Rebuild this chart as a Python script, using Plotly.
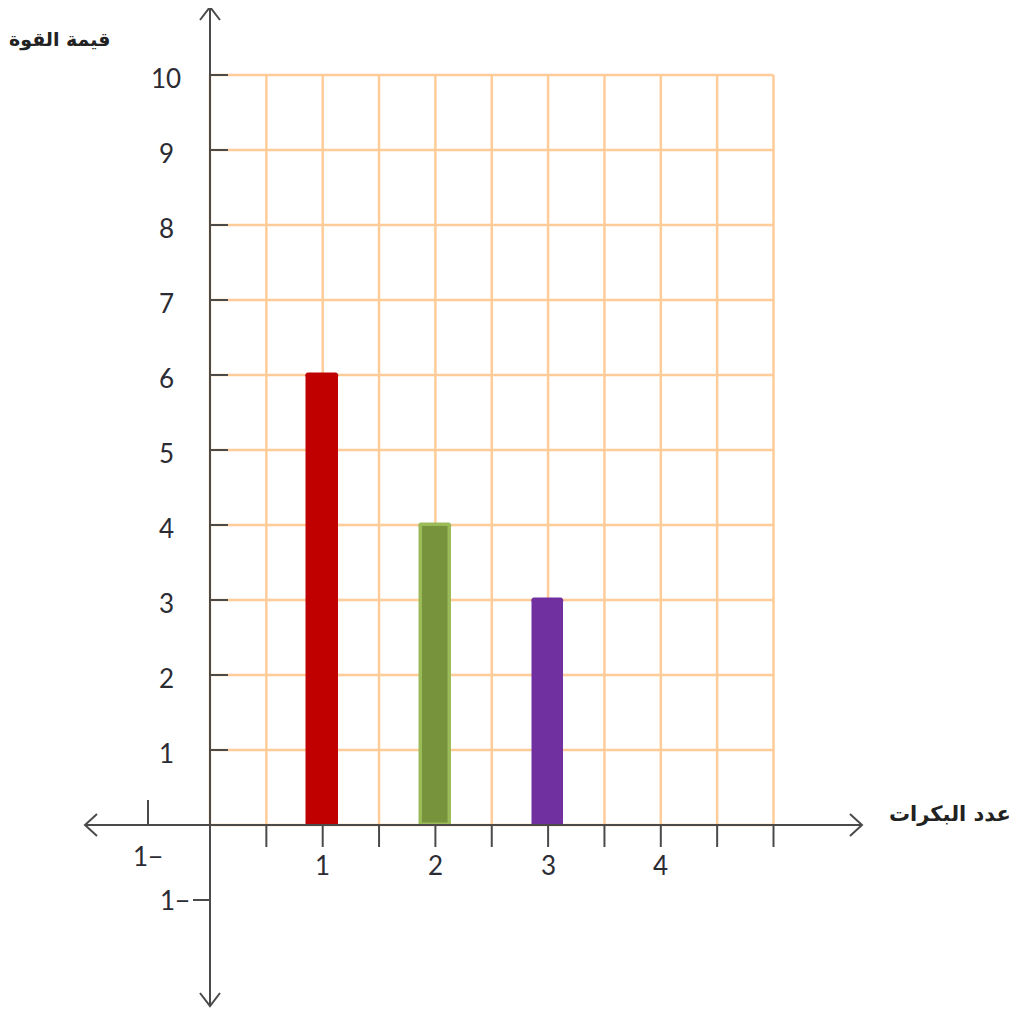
import plotly.graph_objects as go

# ---- data ----
categories = [1, 2, 3]
force_values = [6, 4, 3]
bar_colors = ["#C00000", "#77933C", "#7030A0"]
bar_line_colors = ["#C00000", "#9BBB59", "#7030A0"]
x_tick_vals = [1, 2, 3, 4]
x_tick_text = ["1", "2", "3", "4"]
y_tick_vals = [1, 2, 3, 4, 5, 6, 7, 8, 9, 10]
y_tick_text = ["1", "2", "3", "4", "5", "6", "7", "8", "9", "10"]
neg_label = "1−"
x_title = "عدد البكرات"
y_title = "قيمة القوة"

# page has an 8px body margin; figure sized to fit inside the viewport
OFF = 8
W, H = 1009, 1004
UX, UY = 112.7, 75.0          # pixels per data unit
X0_PAGE, Y0_PAGE = 210, 825   # page pixel of data origin
x0f, y0f = X0_PAGE - OFF, Y0_PAGE - OFF
XR = [-x0f / UX, (W - x0f) / UX]
YR = [-(H - y0f) / UY, y0f / UY]
px_x = 1 / UX
px_y = 1 / UY


def paper_x(page_px):
    return (page_px - OFF) / W


def paper_y(page_py):
    return 1 - (page_py - OFF) / H


fig = go.Figure()

shapes = []
grid_col = "#FFCC99"
axis_col = "#4A4A4A"
# grid
for i in range(0, 11):
    xv = i * 0.5
    shapes.append(dict(type="line", xref="x", yref="y", x0=xv, x1=xv, y0=0, y1=10,
                       line=dict(color=grid_col, width=2.5), layer="below"))
for j in range(0, 11):
    shapes.append(dict(type="line", xref="x", yref="y", x0=0, x1=5, y0=j, y1=j,
                       line=dict(color=grid_col, width=2.5), layer="below"))

# axes
x_left, x_right = (85 - X0_PAGE) * px_x, (862 - X0_PAGE) * px_x
y_top, y_bot = (Y0_PAGE - 7) * px_y, (Y0_PAGE - 1006) * px_y
shapes.append(dict(type="line", xref="x", yref="y", x0=x_left, x1=x_right, y0=0, y1=0,
                   line=dict(color=axis_col, width=2)))
shapes.append(dict(type="line", xref="x", yref="y", x0=0, x1=0, y0=y_bot, y1=y_top,
                   line=dict(color=axis_col, width=2)))

# arrow heads (chevrons)
ax_ = 12 * px_x
ay_ = 11 * px_y
shapes.append(dict(type="path", xref="x", yref="y",
                   path=f"M {x_left+ax_} {ay_} L {x_left} 0 L {x_left+ax_} {-ay_}",
                   line=dict(color=axis_col, width=2)))
shapes.append(dict(type="path", xref="x", yref="y",
                   path=f"M {x_right-ax_} {ay_} L {x_right} 0 L {x_right-ax_} {-ay_}",
                   line=dict(color=axis_col, width=2)))
bx = 10 * px_x
by = 13 * px_y
shapes.append(dict(type="path", xref="x", yref="y",
                   path=f"M {-bx} {y_top-by} L 0 {y_top} L {bx} {y_top-by}",
                   line=dict(color=axis_col, width=2)))
shapes.append(dict(type="path", xref="x", yref="y",
                   path=f"M {-bx} {y_bot+by} L 0 {y_bot} L {bx} {y_bot+by}",
                   line=dict(color=axis_col, width=2)))

# x ticks (below axis, every half unit)
for i in range(1, 11):
    xv = i * 0.5
    shapes.append(dict(type="line", xref="x", yref="y", x0=xv, x1=xv, y0=0, y1=-22 * px_y,
                       line=dict(color=axis_col, width=2)))
# negative x tick (above axis)
neg_x = (148 - X0_PAGE) * px_x
shapes.append(dict(type="line", xref="x", yref="y", x0=neg_x, x1=neg_x, y0=0, y1=25 * px_y,
                   line=dict(color=axis_col, width=2)))
# y ticks (right of axis)
for yv in y_tick_vals:
    shapes.append(dict(type="line", xref="x", yref="y", x0=0, x1=18 * px_x, y0=yv, y1=yv,
                       line=dict(color=axis_col, width=2)))
# negative y tick (left of axis)
shapes.append(dict(type="line", xref="x", yref="y", x0=-17 * px_x, x1=0, y0=-1, y1=-1,
                   line=dict(color=axis_col, width=2)))

# bars
fig.add_trace(go.Bar(
    x=categories, y=force_values, width=0.255,
    marker=dict(color=bar_colors, line=dict(color=bar_line_colors, width=3.5), cornerradius=2),
    hoverinfo="skip", showlegend=False,
))

num_font = dict(family="Lato, Roboto, sans-serif", size=26, color="#2B2B33")
annotations = []
for v, t in zip(x_tick_vals, x_tick_text):
    annotations.append(dict(x=v, y=-40 * px_y, xref="x", yref="y", text=t, showarrow=False,
                            font=num_font, xanchor="center", yanchor="middle"))
for v, t in zip(y_tick_vals, y_tick_text):
    annotations.append(dict(x=(166 - X0_PAGE) * px_x, y=v - 3 * px_y, xref="x", yref="y", text=t,
                            showarrow=False, font=num_font, xanchor="center", yanchor="middle"))
annotations.append(dict(x=neg_x, y=-31 * px_y, xref="x", yref="y", text=neg_label, showarrow=False,
                        font=num_font, xanchor="center", yanchor="middle"))
annotations.append(dict(x=(175 - X0_PAGE) * px_x, y=-1, xref="x", yref="y", text=neg_label,
                        showarrow=False, font=num_font, xanchor="center", yanchor="middle"))

annotations.append(dict(x=paper_x(60), y=paper_y(40), xref="paper", yref="paper",
                        text="<b>" + y_title + "</b>",
                        showarrow=False, xanchor="center", yanchor="middle",
                        font=dict(family="DejaVu Sans, Noto Sans, sans-serif", size=19, color="#222222")))
annotations.append(dict(x=paper_x(950), y=paper_y(814), xref="paper", yref="paper",
                        text="<b>" + x_title + "</b>",
                        showarrow=False, xanchor="center", yanchor="middle",
                        font=dict(family="DejaVu Sans, Noto Sans, sans-serif", size=21, color="#222222")))

fig.update_layout(
    width=W, height=H,
    margin=dict(l=0, r=0, t=0, b=0),
    paper_bgcolor="white", plot_bgcolor="white",
    xaxis=dict(range=XR, visible=False, fixedrange=True),
    yaxis=dict(range=YR, visible=False, fixedrange=True),
    shapes=shapes, annotations=annotations,
    bargap=0,
)

fig.write_html("out.html")
